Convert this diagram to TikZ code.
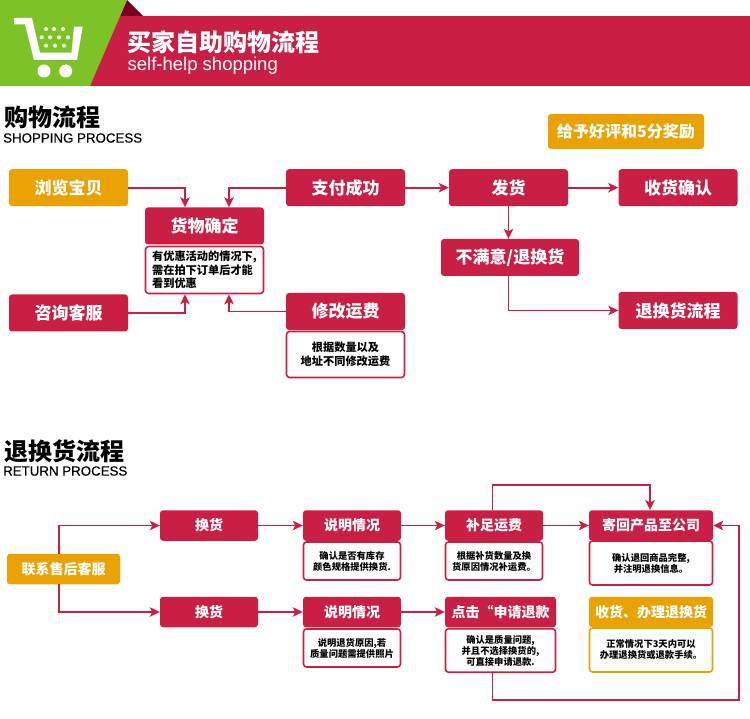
\documentclass[tikz,border=0pt]{standalone}
\usepackage{fontspec}
\setmainfont{Noto Sans CJK SC}
\newfontfamily\latinfont{Liberation Sans}
\newfontfamily\latinbold[FakeBold=0.4]{Liberation Sans}
\usetikzlibrary{arrows.meta}
\begin{document}
\begin{tikzpicture}[x=1pt, y=-1pt]
% Colours taken from the poster
\definecolor{flowRed}{RGB}{201,31,69}
\definecolor{flowDark}{RGB}{122,0,32}
\definecolor{flowOrange}{RGB}{233,162,2}
\definecolor{flowGreen}{RGB}{125,194,38}
\tikzset{
  redbox/.style={fill=flowRed, text=white, rounded corners=3pt, inner sep=0pt, font=\bfseries\fontsize{17}{19}\selectfont},
  orangebox/.style={redbox, fill=flowOrange},
  smallbox/.style={font=\bfseries\fontsize{14}{16}\selectfont},
  notebox/.style={draw=flowRed, fill=white, text=black, line width=1.6pt, rounded corners=3pt, inner sep=0pt, align=center, font=\bfseries\fontsize{11.2}{13.5}\selectfont},
  smallnote/.style={font=\bfseries\fontsize{9.3}{11}\selectfont},
  link/.style={draw=flowRed, line width=1.8pt, -{Stealth[length=10pt,width=9.5pt,inset=2.5pt]}},
  bigw/.style={minimum width=119pt, minimum height=37pt},
  midw/.style={minimum width=98pt, minimum height=30.5pt}
}
\useasboundingbox (0,0) rectangle (750,719);
% Banner
\fill[flowRed] (90,16) rectangle (750,86);
\fill[flowDark] (127,0) -- (143,16) -- (120,16) -- cycle;
\fill[flowGreen] (0,0) -- (127,0) -- (90,86) -- (0,86) -- cycle;
% Cart
\fill[white] (14,18) -- (32,18) -- (40,52.7) -- (71.5,52.7) -- (74,26.7) -- (82.7,26.7) -- (77,60) -- (34,60) -- (25,24.5) -- (14,24.5) -- cycle;
\fill[white] (44,71) circle (6.5);
\fill[white] (65.7,71) circle (6.5);
\fill[white] (46,29) circle (2);
\fill[white] (54,29) circle (2);
\fill[white] (63,29) circle (2);
\fill[white] (41.7,37.3) circle (2);
\fill[white] (50,37.3) circle (2);
\fill[white] (59,37.3) circle (2);
\fill[white] (68,37.3) circle (2);
\fill[white] (46,45.7) circle (2);
\fill[white] (55,45.7) circle (2);
\fill[white] (64,45.7) circle (2);
\node[anchor=west, inner sep=0pt, text=white, font=\bfseries\fontsize{24}{26}\selectfont] (bannerTitle) at (127.5,42) {买家自助购物流程};
\node[anchor=west, inner sep=0pt, text=white, font=\latinfont\fontsize{18.5}{20}\selectfont] (bannerSub) at (127.5,65.5) {self-help shopping};
% Section headings
\node[anchor=west, inner sep=0pt, font=\bfseries\fontsize{24}{26}\selectfont] (shopTitle) at (4,117) {购物流程};
\node[anchor=west, inner sep=0pt, font=\latinbold\fontsize{13.3}{16}\selectfont] (shopSub) at (3,138) {SHOPPING PROCESS};
\node[anchor=west, inner sep=0pt, font=\bfseries\fontsize{24}{26}\selectfont] (returnTitle) at (4,451) {退换货流程};
\node[anchor=west, inner sep=0pt, font=\latinbold\fontsize{13.3}{16}\selectfont] (returnSub) at (3,471) {RETURN PROCESS};
% Shopping process boxes
\node[orangebox, minimum width=156pt, minimum height=35pt, font=\bfseries\fontsize{16}{18}\selectfont] (reward) at (626,131.5) {给予好评和5分奖励};
\node[orangebox, bigw] (browse) at (68.5,187.7) {浏览宝贝};
\node[redbox, bigw] (paid) at (345.5,187.7) {支付成功};
\node[redbox, bigw] (ship) at (508.5,187.7) {发货};
\node[redbox, bigw] (confirm) at (678,187.7) {收货确认};
\node[redbox, bigw] (goods) at (204.5,226) {货物确定};
\node[notebox, minimum width=118pt, minimum height=47pt, align=left] (goodsNote) at (204.5,270) {有优惠活动的情况下,\\需在拍下订单后才能\\看到优惠};
\node[redbox, bigw] (ask) at (68.5,313) {咨询客服};
\node[redbox, bigw] (fee) at (345.5,311.5) {修改运费};
\node[notebox, minimum width=118pt, minimum height=46pt] (feeNote) at (345.5,354.5) {根据数量以及\\地址不同修改运费};
\node[redbox, minimum width=138pt, minimum height=37pt] (unhappy) at (510,257.5) {不满意/退换货};
\node[redbox, bigw] (returnflow) at (678,310.5) {退换货流程};
% Shopping process connectors
\coordinate (goodsInA) at ([xshift=-19.5pt]goods.north);
\coordinate (goodsInB) at ([xshift=24.5pt]goods.north);
\coordinate (noteInA) at ([xshift=-19.5pt]goodsNote.south);
\coordinate (noteInB) at ([xshift=24.5pt]goodsNote.south);
\draw[link] (browse.east) -| (goodsInA);
\draw[link] (paid.west) -| (goodsInB);
\draw[link] (ask.east) -| (noteInA);
\draw[link] (fee.west) -| (noteInB);
\draw[link] (paid.east) -- (ship.west);
\draw[link] (ship.east) -- (confirm.west);
\draw[link] (ship.south) -- (ship.south |- unhappy.north);
\draw[link] (ship.south |- unhappy.south) |- (returnflow.west);
% Return process boxes
\node[orangebox, smallbox, minimum width=113pt, minimum height=30.5pt] (service) at (63.5,569) {联系售后客服};
\node[redbox, smallbox, midw] (swapA) at (209,525.5) {换货};
\node[redbox, smallbox, midw] (swapB) at (209,612) {换货};
\node[redbox, smallbox, midw] (explainA) at (352,525.5) {说明情况};
\node[notebox, smallnote, minimum width=97pt, minimum height=38pt] (explainNoteA) at (352,561) {确认是否有库存\\颜色规格提供换货.};
\node[redbox, smallbox, midw] (explainB) at (352,612) {说明情况};
\node[notebox, smallnote, minimum width=97pt, minimum height=38pt] (explainNoteB) at (352,648) {说明退货原因,若\\质量问题需提供照片};
\node[redbox, smallbox, midw] (extra) at (494,525.5) {补足运费};
\node[notebox, smallnote, minimum width=97pt, minimum height=38pt] (extraNote) at (494,561) {根据补货数量及换\\货原因情况补运费。};
\node[redbox, smallbox, minimum width=111pt, minimum height=30.5pt] (refund) at (500.5,612) {点击“申请退款};
\node[notebox, smallnote, minimum width=110pt, minimum height=43.5pt] (refundNote) at (500.5,650.5) {确认是质量问题,\\并且不选择换货的,\\可直接申请退款.};
\node[redbox, smallbox, minimum width=124pt, minimum height=30.5pt] (sendback) at (651,525.5) {寄回产品至公司};
\node[notebox, smallnote, minimum width=123pt, minimum height=44pt] (sendbackNote) at (651,563) {确认退回商品完整,\\并注明退换信息。};
\node[orangebox, smallbox, minimum width=124pt, minimum height=30.5pt] (receive) at (651,612) {收货、办理退换货};
\node[notebox, smallnote, draw=flowOrange, minimum width=123pt, minimum height=44pt] (receiveNote) at (651,650) {正常情况下3天内可以\\办理退换货或退款手续。};
% Return process connectors
\coordinate (serviceUp) at ([xshift=-4.5pt]service.north);
\coordinate (serviceDown) at ([xshift=-4.5pt]service.south);
\coordinate (extraUp) at ([xshift=-1.5pt]extra.north);
\coordinate (refundDown) at ([xshift=-8pt]refundNote.south);
\coordinate (topRun) at (650,485);
\coordinate (bottomRun) at (739,700);
\draw[link] (serviceUp) |- (swapA.west);
\draw[link] (serviceDown) |- (swapB.west);
\draw[link] (swapA.east) -- (explainA.west);
\draw[link] (swapB.east) -- (explainB.west);
\draw[link] (explainA.east) -- (extra.west);
\draw[link] (explainB.east) -- (refund.west);
\draw[link] (extra.east) -- (sendback.west);
\draw[link] (extraUp) |- (topRun) -- (topRun |- sendback.north);
\draw[link] (refundDown) |- (bottomRun) |- (sendback.east);
\end{tikzpicture}
\end{document}
